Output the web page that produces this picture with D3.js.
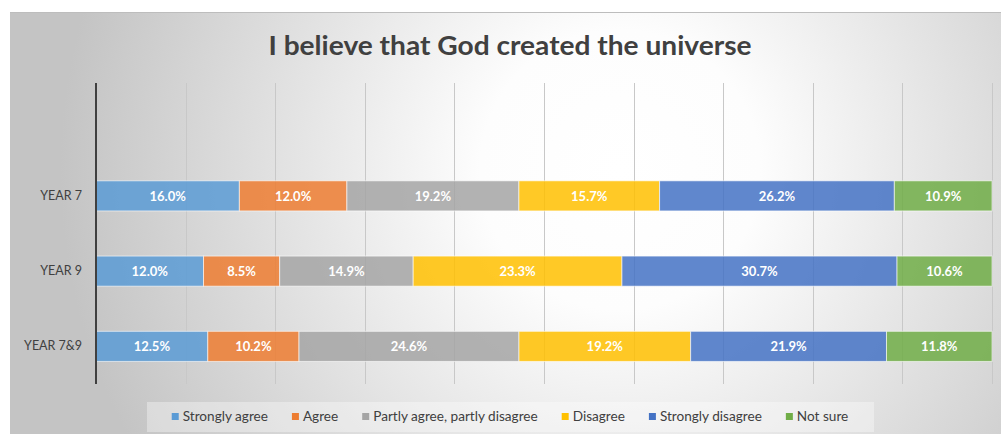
<!DOCTYPE html>
<html>
<head>
<meta charset="utf-8">
<script src="https://cdn.jsdelivr.net/npm/d3@7"></script>
<style>
  body { margin: 0; background: #fff; }
  text { font-family: Lato, "Open Sans", sans-serif; }
</style>
</head>
<body>
<script>
// data
const categories = ['YEAR 7', 'YEAR 9', 'YEAR 7&9']
const seriesNames = ['Strongly agree', 'Agree', 'Partly agree, partly disagree', 'Disagree', 'Strongly disagree', 'Not sure']
const stronglyAgree = [16.0, 12.0, 12.5]
const agree = [12.0, 8.5, 10.2]
const partly = [19.2, 14.9, 24.6]
const disagree = [15.7, 23.3, 19.2]
const stronglyDisagree = [26.2, 30.7, 21.9]
const notSure = [10.9, 10.6, 11.8]
const xTicks = [0, 0.1, 0.2, 0.3, 0.4, 0.5, 0.6, 0.7, 0.8, 0.9, 1]
const colors = ['#5B9BD5', '#ED7D31', '#A5A5A5', '#FFC000', '#4472C4', '#70AD47']

const seriesValues = [stronglyAgree, agree, partly, disagree, stronglyDisagree, notSure]
const rows = categories.map((c, i) => {
  const r = { cat: c }
  seriesNames.forEach((s, j) => { r[s] = seriesValues[j][i] })
  return r
})

const width = 1001
const height = 434
const margin = { top: 83, bottom: 50, left: 96, right: 9 }
const innerWidth = width - margin.left - margin.right
const innerHeight = height - margin.top - margin.bottom

const svg = d3.select('body').append('svg')
  .attr('width', width)
  .attr('height', height)

// background gradient
const defs = svg.append('defs')
const grad = defs.append('radialGradient')
  .attr('id', 'bg')
  .attr('gradientUnits', 'userSpaceOnUse')
  .attr('cx', 620).attr('cy', 170).attr('r', 560)
grad.append('stop').attr('offset', 0).attr('stop-color', '#ffffff')
grad.append('stop').attr('offset', 0.25).attr('stop-color', '#fdfdfd')
grad.append('stop').attr('offset', 1).attr('stop-color', '#c4c4c4')

svg.append('rect')
  .attr('x', 10).attr('y', 12)
  .attr('width', width).attr('height', height)
  .attr('fill', 'url(#bg)')
svg.append('line')
  .attr('x1', 10).attr('x2', width)
  .attr('y1', 12.5).attr('y2', 12.5)
  .attr('stroke', '#bdbdbd')

// title
svg.append('text')
  .attr('x', 510).attr('y', 55)
  .attr('text-anchor', 'middle')
  .attr('font-size', 26)
  .attr('font-weight', 'bold')
  .attr('fill', '#404040')
  .attr('textLength', 483)
  .attr('lengthAdjust', 'spacingAndGlyphs')
  .text('I believe that God created the universe')

const main = svg.append('g')
  .attr('transform', `translate(${margin.left}, ${margin.top})`)

const xScale = d3.scaleLinear()
  .domain([0, 1])
  .range([0, innerWidth])

// empty slot at the top, as in the original chart
const yScale = d3.scaleBand()
  .domain(['', ...categories])
  .range([0, innerHeight])
  .paddingInner(0.6)
  .paddingOuter(0.3)

// gridlines
main.append('g')
  .selectAll('line')
  .data(xTicks.slice(1))
  .enter()
  .append('line')
  .attr('x1', d => Math.round(xScale(d)) + 0.5)
  .attr('x2', d => Math.round(xScale(d)) + 0.5)
  .attr('y1', 0)
  .attr('y2', innerHeight)
  .attr('stroke', '#c8c8c8')
  .attr('stroke-width', 1)

// stacked bars (normalised to 100%)
const stack = d3.stack()
  .keys(seriesNames)
  .offset(d3.stackOffsetExpand)
const layers = stack(rows)

const layerG = main.append('g')
  .selectAll('g')
  .data(layers)
  .enter()
  .append('g')
  .attr('fill', (d, i) => colors[i])

layerG.selectAll('rect')
  .data(d => d)
  .enter()
  .append('rect')
  .attr('x', d => xScale(d[0]))
  .attr('width', d => xScale(d[1]) - xScale(d[0]))
  .attr('y', d => yScale(d.data.cat))
  .attr('height', yScale.bandwidth())
  .attr('fill-opacity', 0.85)
  .attr('stroke', '#ffffff')
  .attr('stroke-opacity', 0.6)
  .attr('stroke-width', 1)

layerG.selectAll('text')
  .data((d) => d.map(p => ({ p, key: d.key })))
  .enter()
  .append('text')
  .attr('x', d => (xScale(d.p[0]) + xScale(d.p[1])) / 2)
  .attr('y', d => yScale(d.p.data.cat) + yScale.bandwidth() / 2)
  .attr('dy', '0.36em')
  .attr('text-anchor', 'middle')
  .attr('font-size', 13)
  .attr('font-weight', 'bold')
  .attr('fill', '#ffffff')
  .text(d => d.p.data[d.key].toFixed(1) + '%')

// y-axis
const yAxis = d3.axisLeft(yScale).tickSize(0).tickPadding(14)
const yG = main.append('g').call(yAxis)
yG.select('.domain').remove()
yG.selectAll('text')
  .attr('font-size', 12.5)
  .attr('fill', '#404040')
  .style('font-family', 'Lato, sans-serif')

main.append('line')
  .attr('x1', 0).attr('x2', 0)
  .attr('y1', 0).attr('y2', innerHeight)
  .attr('stroke', '#404040')
  .attr('stroke-width', 2)

// legend
svg.append('rect')
  .attr('x', 147).attr('y', 402)
  .attr('width', 727).attr('height', 30)
  .attr('fill', '#ffffff')
  .attr('fill-opacity', 0.35)

const legend = svg.append('g')
const gap = 24
let lx = 0
const items = legend.selectAll('g')
  .data(seriesNames)
  .enter()
  .append('g')
items.append('rect')
  .attr('width', 7).attr('height', 7)
  .attr('y', -8)
  .attr('fill', (d, i) => colors[i])
items.append('text')
  .attr('x', 11)
  .attr('font-size', 13.6)
  .attr('fill', '#404040')
  .text(d => d)
items.each(function () {
  d3.select(this).attr('transform', `translate(${lx}, 0)`)
  lx += this.getBBox().width + gap
})
const legendW = lx - gap
legend.attr('transform', `translate(${510 - legendW / 2}, 421)`)
</script>
</body>
</html>
